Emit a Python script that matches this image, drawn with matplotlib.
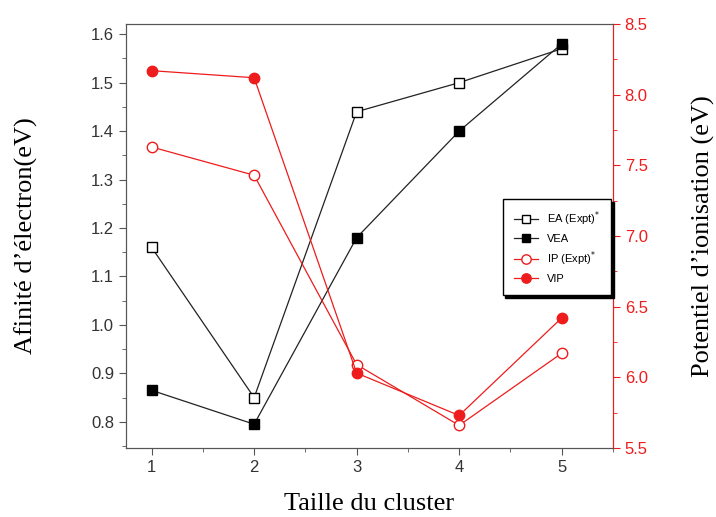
import matplotlib
matplotlib.use("Agg")
import matplotlib.pyplot as plt
from matplotlib.ticker import MultipleLocator

# cluster size
sizes = [1, 2, 3, 4, 5]

# electron affinity (left axis, eV)
ea_expt = [1.16, 0.85, 1.44, 1.50, 1.57]
vea = [0.865, 0.795, 1.18, 1.40, 1.58]

# ionisation potential (right axis, eV)
ip_expt = [7.63, 7.43, 6.09, 5.66, 6.17]
vip = [8.17, 8.12, 6.03, 5.73, 6.42]

RED = "#ee1c1c"
GRAY = "#555555"

plt.rcParams["font.family"] = ["Liberation Sans", "DejaVu Sans"]

fig = plt.figure(figsize=(7.16, 5.17), dpi=100)
ax = fig.add_axes([0.176, 0.1335, 0.68, 0.82])
ax2 = ax.twinx()

h1, = ax.plot(sizes, ea_expt, "-s", color="#222222", mfc="white", mec="black",
              ms=7, lw=0.9, label="EA (Expt)$^{*}$")
h2, = ax.plot(sizes, vea, "-s", color="#222222", mfc="black", mec="black",
              ms=7, lw=0.9, label="VEA")
h3, = ax2.plot(sizes, ip_expt, "-o", color=RED, mfc="white", mec=RED,
               ms=7.5, lw=0.9, label="IP (Expt)$^{*}$")
h4, = ax2.plot(sizes, vip, "-o", color=RED, mfc=RED, mec=RED,
               ms=7.5, lw=0.9, label="VIP")

ax.set_xlim(0.75, 5.5)
ax.set_ylim(0.746, 1.621)
ax2.set_ylim(5.5, 8.5)

ax.set_xticks(sizes)
ax.xaxis.set_minor_locator(MultipleLocator(0.5))
ax.yaxis.set_major_locator(MultipleLocator(0.1))
ax.yaxis.set_minor_locator(MultipleLocator(0.05))
ax.yaxis.set_major_formatter(matplotlib.ticker.FormatStrFormatter("%.1f"))
ax2.yaxis.set_major_locator(MultipleLocator(0.5))
ax2.yaxis.set_minor_locator(MultipleLocator(0.25))
ax2.yaxis.set_major_formatter(matplotlib.ticker.FormatStrFormatter("%.1f"))

for a in (ax, ax2):
    for s in a.spines.values():
        s.set_color(GRAY)
ax2.spines["right"].set_color(RED)

ax.tick_params(which="both", direction="out", color=GRAY, labelsize=12,
               labelcolor="#333333")
ax.tick_params(which="major", length=5)
ax.tick_params(which="minor", length=3)
ax2.tick_params(axis="y", which="both", direction="out", color=RED,
                labelcolor=RED, labelsize=12)
ax2.tick_params(axis="y", which="major", length=5)
ax2.tick_params(axis="y", which="minor", length=3)

serif = ["Liberation Serif", "DejaVu Serif"]
ax.set_xlabel("Taille du cluster", family=serif, fontsize=19, labelpad=13)
ax.set_ylabel("Afinité d’électron(eV)", family=serif, fontsize=19, labelpad=38)
ax2.set_ylabel("Potentiel d’ionisation (eV)", family=serif, fontsize=19,
               labelpad=32)

leg = ax2.legend(handles=[h1, h2, h3, h4], loc="upper left",
                 bbox_to_anchor=(0.762, 0.601), fontsize=8, frameon=True,
                 fancybox=False, shadow={"color": "black", "alpha": 1.0},
                 edgecolor="black", handlelength=2.2, borderpad=1.0,
                 labelspacing=0.5, markerscale=0.9, framealpha=1.0)
leg.get_frame().set_linewidth(1.0)

fig.savefig("out.png", dpi=100)
